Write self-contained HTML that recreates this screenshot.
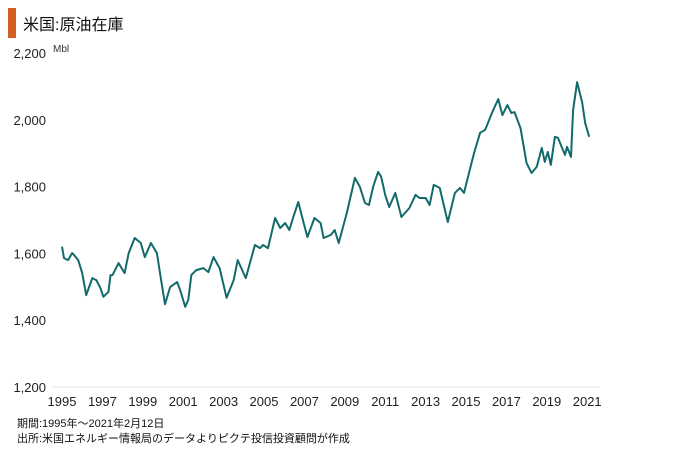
<!DOCTYPE html>
<html><head><meta charset="utf-8">
<style>
body{margin:0;background:#fff;}
svg{display:block;font-family:"Liberation Sans","Noto Sans CJK JP",sans-serif;}
</style></head>
<body>
<svg id="chart" width="680" height="451" viewBox="0 0 680 451">
<rect x="8" y="8" width="8" height="30" fill="#d45f25"/>
<text x="23" y="30" font-size="16" fill="#111" font-family="'Liberation Sans','Noto Sans CJK JP',sans-serif">米国:原油在庫</text>
<text x="53" y="52" font-size="10" fill="#333">Mbl</text>
<line x1="52" y1="387" x2="600" y2="387" stroke="#e3e3e3" stroke-width="1"/>
<g id="yticks"></g>
<g id="xticks"></g>
<path id="line" fill="none" stroke="#136a6a" stroke-width="2" stroke-linejoin="round"/>
<text x="17" y="427" font-size="11" fill="#111">期間:1995年～2021年2月12日</text>
<text x="17" y="442" font-size="11" fill="#111">出所:米国エネルギー情報局のデータよりピクテ投信投資顧問が作成</text>
</svg>
<script>
const yTicks=[1200,1400,1600,1800,2000,2200];
const yTickLabels=["1,200","1,400","1,600","1,800","2,000","2,200"];
const xTicks=[1995,1997,1999,2001,2003,2005,2007,2009,2011,2013,2015,2017,2019,2021];
const years=[1995.0,1995.1,1995.3,1995.5,1995.6,1995.8,1996.0,1996.2,1996.5,1996.7,1996.9,1997.05,1997.3,1997.4,1997.5,1997.8,1997.95,1998.1,1998.3,1998.6,1998.9,1999.1,1999.4,1999.7,1999.85,2000.1,2000.35,2000.7,2000.85,2001.1,2001.25,2001.4,2001.65,2002.0,2002.25,2002.5,2002.8,2003.15,2003.5,2003.7,2004.1,2004.55,2004.8,2004.95,2005.2,2005.55,2005.8,2006.05,2006.25,2006.45,2006.7,2006.95,2007.15,2007.5,2007.8,2007.95,2008.3,2008.5,2008.7,2009.1,2009.5,2009.75,2010.0,2010.2,2010.4,2010.65,2010.8,2011.0,2011.2,2011.5,2011.8,2012.2,2012.5,2012.7,2013.0,2013.2,2013.4,2013.7,2014.1,2014.45,2014.7,2014.9,2015.1,2015.4,2015.7,2015.95,2016.3,2016.6,2016.8,2017.05,2017.25,2017.4,2017.7,2018.0,2018.25,2018.5,2018.75,2018.9,2019.05,2019.2,2019.4,2019.55,2019.9,2020.0,2020.2,2020.3,2020.5,2020.75,2020.9,2021.1];
const values=[1620,1586,1580,1601,1595,1580,1541,1475,1526,1520,1496,1470,1485,1535,1535,1571,1556,1541,1601,1646,1631,1589,1631,1601,1541,1448,1499,1514,1490,1440,1461,1535,1550,1556,1544,1589,1556,1467,1520,1580,1526,1625,1616,1625,1616,1706,1676,1691,1670,1709,1754,1694,1649,1706,1691,1646,1655,1670,1631,1721,1826,1799,1751,1745,1799,1844,1829,1775,1739,1781,1709,1736,1775,1766,1766,1745,1805,1796,1694,1781,1796,1781,1829,1901,1961,1970,2023,2062,2014,2044,2020,2023,1975,1870,1841,1859,1916,1874,1904,1865,1949,1946,1895,1919,1889,2029,2113,2053,1990,1949];
const X=y=>62+(y-1995)*20.2;
const Y=v=>387-(v-1200)*0.334;
const NS="http://www.w3.org/2000/svg";
const yg=document.getElementById('yticks');
yTicks.forEach((t,i)=>{
  const el=document.createElementNS(NS,'text');
  
  
  el.setAttribute('x',46);el.setAttribute('y',Y(t)+5);
  el.setAttribute('text-anchor','end');el.setAttribute('font-size','13');el.setAttribute('fill','#222');
  el.textContent=yTickLabels[i];yg.appendChild(el);
});
const xg=document.getElementById('xticks');
xTicks.forEach(t=>{
  const el=document.createElementNS(NS,'text');
  
  
  el.setAttribute('x',X(t));el.setAttribute('y',406);
  el.setAttribute('text-anchor','middle');el.setAttribute('font-size','13');el.setAttribute('fill','#222');
  el.textContent=t;xg.appendChild(el);
});
document.getElementById('line').setAttribute('d',years.map((y,i)=>(i?'L':'M')+X(y).toFixed(1)+' '+Y(values[i]).toFixed(1)).join(' '));
</script>
</body></html>
